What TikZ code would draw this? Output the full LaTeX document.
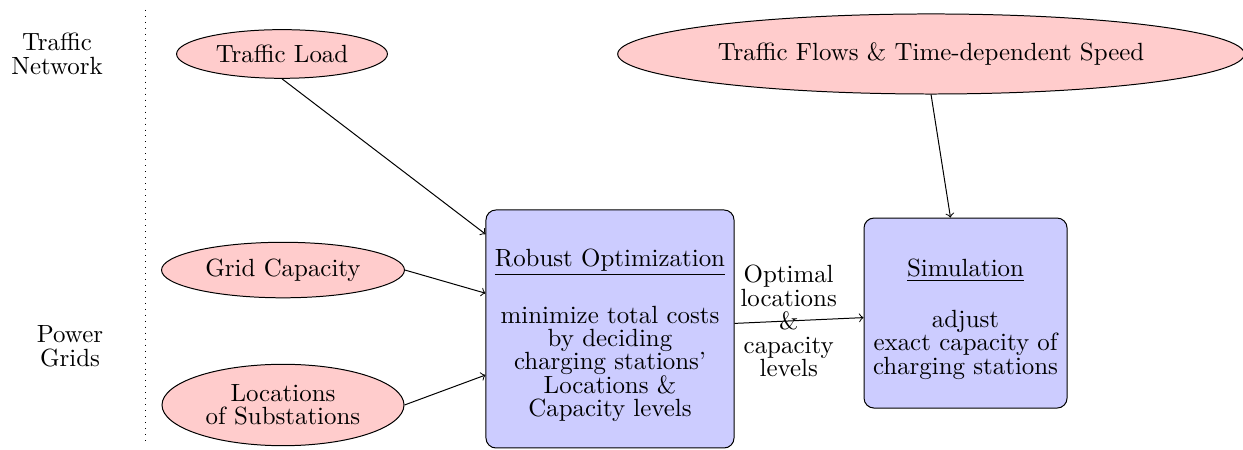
\documentclass[tikz,border=0pt]{standalone}
\usetikzlibrary{positioning}
\usetikzlibrary{shapes}
\usetikzlibrary{arrows}
\usepackage{xcolor}

\begin{document}
\begin{tikzpicture}[
    e/.style={draw,ellipse,fill=red!20,align=center},%
    b/.style={draw,rounded corners,fill=blue!20,align=center},%
    f/.style={->},%
    font=\fontsize{10}{9.4}\selectfont]
    \useasboundingbox (0,0) rectangle (17.547,-6.339);
    % left side: the two layers
    \node[align=center] (TN) at (0.805,-0.762) {Traffic\\Network};
    \node[align=center] (PG) at (0.988,-4.89) {Power\\Grids};
    \draw[dotted] (2.047,-0.141) -- (2.047,-6.254);
    % inputs
    \node[e] (TL) at (3.981,-0.762) {Traffic Load};
    \node[e] (GC) at (3.995,-3.812) {Grid Capacity};
    \node[e] (LS) at (3.995,-5.717) {Locations\\of Substations};
    \node[e,minimum height=1.13cm] (TF) at (13.143,-0.762) {Traffic Flows \& Time-dependent Speed};
    % the two stages
    \node[b,minimum width=3.501cm,minimum height=3.36cm] (RO) at (8.611,-4.644) {\rule{0pt}{12pt}\underline{Robust Optimization}\\[11pt]minimize total costs\\by deciding\\charging stations'\\Locations \&\\Capacity levels};
    \node[b,minimum width=2.866cm,minimum height=2.682cm] (SI) at (13.630,-4.419) {\rule{0pt}{12pt}\underline{Simulation}\\[11pt]adjust\\exact capacity of\\charging stations};

    \draw[f] (TL.south) -- (RO);
    \draw[f] (GC.east) -- (RO);
    \draw[f] (LS.east) -- (RO);
    \draw[f] (TF.south) -- (SI);
    \draw[f] (RO) -- node[align=center,pos=0.42]{Optimal\\locations\\\&\\capacity\\levels} (SI);
\end{tikzpicture}
\end{document}
